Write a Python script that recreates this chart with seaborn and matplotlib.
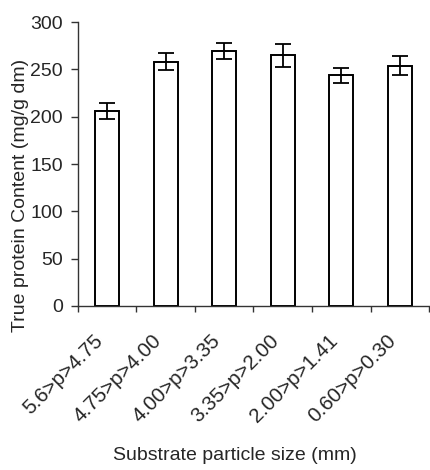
import numpy as np
import pandas as pd
import seaborn as sns
import matplotlib
matplotlib.use("Agg")
import matplotlib.pyplot as plt
import matplotlib.transforms as mtransforms

# particle size classes and measured true protein content (mean +/- error)
size_classes = ["5.6>p>4.75", "4.75>p>4.00", "4.00>p>3.35",
                "3.35>p>2.00", "2.00>p>1.41", "0.60>p>0.30"]
protein = [206, 258, 269, 265, 244, 254]
protein_err = [8, 9, 8.5, 12, 8, 10]

df = pd.DataFrame({"size": size_classes, "protein": protein})

sns.set_style("ticks")
plt.rcParams['font.family'] = ['Liberation Sans', 'DejaVu Sans']

fig = plt.figure(figsize=(4.3, 4.7), dpi=100)
ax = fig.add_axes([0.181, 0.349, 0.817, 0.604])

sns.barplot(data=df, x="size", y="protein", color="white", edgecolor="black",
            linewidth=1.4, width=0.41, errorbar=None, ax=ax)
ax.errorbar(np.arange(len(protein)), protein, yerr=protein_err, fmt="none",
            ecolor="black", elinewidth=1.3, capsize=6, capthick=1.3)

ax.set_ylim(0, 300)
ax.set_xlim(-0.5, len(size_classes) - 0.5)
ax.set_yticks(range(0, 301, 50))
ax.tick_params(axis="y", labelsize=14, length=5, width=1, color="#333333", pad=5.8)

# excel-style: ticks between categories, labels centred under bars
ax.set_xticks(np.arange(-0.5, len(size_classes), 1.0), minor=True)
ax.tick_params(axis="x", which="minor", length=4, width=1, color="#333333")
ax.tick_params(axis="x", which="major", length=0, labelsize=14.8, pad=23)
ax.set_xticks(range(len(size_classes)))
ax.set_xticklabels(size_classes, rotation=45, ha="right", va="center",
                   rotation_mode="anchor")
shift = mtransforms.ScaledTranslation(-5 / 72, 0, fig.dpi_scale_trans)
for lbl in ax.get_xticklabels():
    lbl.set_transform(lbl.get_transform() + shift)

for side in ["top", "right"]:
    ax.spines[side].set_visible(False)
for side in ["left", "bottom"]:
    ax.spines[side].set_color("#333333")
    ax.spines[side].set_linewidth(1)

ax.set_ylabel("True protein Content (mg/g dm)", fontsize=14)
ax.yaxis.set_label_coords(-0.138, 0.39)
ax.set_xlabel("Substrate particle size (mm)", fontsize=14)
ax.xaxis.set_label_coords(0.447, -0.496)

fig.savefig("out.png", dpi=100)
